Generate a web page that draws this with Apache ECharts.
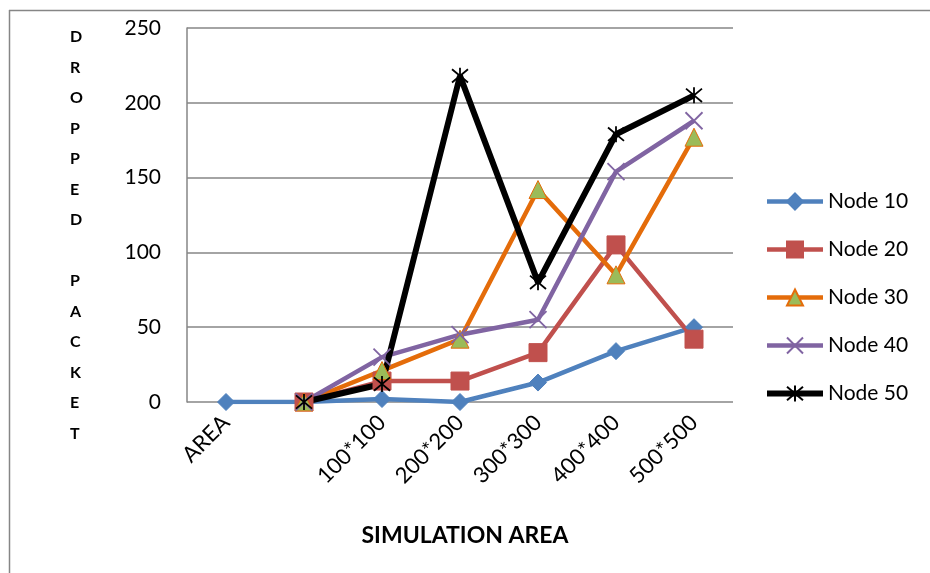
<!DOCTYPE html>
<html>
<head>
<meta charset="utf-8">
<script src="https://cdn.jsdelivr.net/npm/echarts@6/dist/echarts.min.js"></script>
<style>html,body{margin:0;padding:0;background:#fff;}#c{width:930px;height:573px;}</style>
</head>
<body>
<div id="c"></div>
<script>
const categories = ['AREA', '', '100*100', '200*200', '300*300', '400*400', '500*500'];
const node10 = [0, 0, 2, 0, 13, 34, 50];
const node20 = [null, 0, 14, 14, 33, 105, 42];
const node30 = [null, 0, 21, 42, 142, 85, 177];
const node40 = [null, 0, 30, 45, 55, 154, 188];
const node50 = [null, 0, 12, 218, 80, 179, 205];
const yTicks = [0, 50, 100, 150, 200, 250];
const yTitle = 'DROPPED PACKET';
const xTitle = 'SIMULATION AREA';

const FONT = 'Lato, "Open Sans", sans-serif';
const xPath = 'path://M0,0 L10,10 M10,0 L0,10';
const starPath = 'path://M0,0 L10,10 M10,0 L0,10 M5,-1 L5,11';

const chart = echarts.init(document.getElementById('c'));
const letters = yTitle.split('').join('\n');

function mk(name, data, color, symbol, size, fill, width) {
  return {
    name, type: 'line', data, symbol, symbolSize: size,
    connectNulls: false,
    lineStyle: { color, width },
    itemStyle: { color: fill, borderColor: color, borderWidth: symbol.startsWith('path') ? 1.8 : 1 },
    emphasis: { disabled: true }
  };
}

chart.setOption({
  animation: false,
  backgroundColor: '#fff',
  textStyle: { fontFamily: FONT },
  grid: { left: 187, right: 197, top: 28, bottom: 171, containLabel: false },
  xAxis: {
    type: 'category', data: categories, boundaryGap: true,
    axisLine: { show: false },
    axisTick: { show: false },
    axisLabel: { rotate: 45, fontSize: 22, color: '#000', fontFamily: FONT, margin: 17, interval: 0 },
    splitLine: { show: false }
  },
  yAxis: {
    type: 'value', min: yTicks[0], max: yTicks[yTicks.length - 1], interval: 50,
    axisLine: { show: true, lineStyle: { color: '#868686', width: 1.5 } },
    axisTick: { show: false },
    axisLabel: { fontSize: 21, color: '#000', fontFamily: FONT, margin: 26 },
    splitLine: { show: true, lineStyle: { color: '#868686', width: 1.5 } }
  },
  legend: {
    orient: 'vertical', left: 759, top: 186, itemGap: 27, itemWidth: 56, itemHeight: 20,
    lineStyle: { width: 'inherit' },
    textStyle: { fontSize: 21, color: '#000', fontFamily: FONT },
    data: ['Node 10', 'Node 20', 'Node 30', 'Node 40', 'Node 50']
  },
  series: [
    mk('Node 10', node10, '#4F81BD', 'diamond', 17, '#4F81BD', 4.5),
    mk('Node 20', node20, '#C0504D', 'rect', 18, '#C0504D', 4.5),
    mk('Node 30', node30, '#E46C0A', 'triangle', 18, '#9BBB59', 4.5),
    mk('Node 40', node40, '#8064A2', xPath, 17, 'rgba(0,0,0,0)', 4.5),
    mk('Node 50', node50, '#000000', starPath, 16, 'rgba(0,0,0,0)', 6)
  ],
  graphic: [
    { type: 'line', shape: { x1: 9.5, y1: 10, x2: 9.5, y2: 573 }, style: { stroke: '#868686', lineWidth: 1.5 }, silent: true },
    { type: 'line', shape: { x1: 9, y1: 10.5, x2: 930, y2: 10.5 }, style: { stroke: '#868686', lineWidth: 1.5 }, silent: true },
    { type: 'text', left: 70, top: 22, silent: true,
      style: { text: letters, font: 'bold 16px ' + FONT, fill: '#000', lineHeight: 30.5, align: 'center' } },
    { type: 'text', left: 'center', top: 524, silent: true,
      style: { text: xTitle, font: 'bold 23px ' + FONT, fill: '#000' } }
  ]
});
</script>
</body>
</html>
